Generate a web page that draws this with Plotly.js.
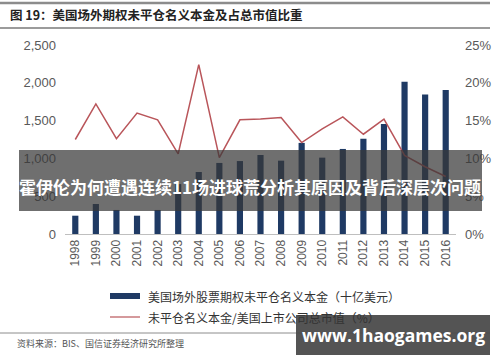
<!DOCTYPE html>
<html>
<head>
<meta charset="utf-8">
<script src="https://cdn.plot.ly/plotly-3.0.1.min.js"></script>
<style>html,body{margin:0;padding:0;background:#fff;}#chart{width:500px;height:362px;}</style>
</head>
<body>
<div id="chart"></div>
<script>
const years = ['1998','1999','2000','2001','2002','2003','2004','2005','2006','2007','2008','2009','2010','2011','2012','2013','2014','2015','2016'];
const notional = [242, 397, 318, 242, 318, 660, 820, 940, 965, 1045, 970, 1205, 1010, 1125, 1260, 1455, 2015, 1845, 1905];
const ratioPct = [12.5, 17.2, 12.6, 16.0, 15.1, 10.6, 22.4, 10.1, 15.1, 15.2, 15.4, 12.1, 13.9, 15.5, 13.2, 15.2, 10.4, 8.9, 7.6];
const seriesNames = ['美国场外股票期权未平仓名义本金（十亿美元）', '未平仓名义本金/美国上市公司总市值（%）'];
const titleText = '图 19：美国场外期权未平仓名义本金及占总市值比重';
const sourceText = '资料来源：BIS、国信证券经济研究所整理';
const bannerText = '霍伊伦为何遭遇连续11场进球荒分析其原因及背后深层次问题';
const watermarkText = 'www.1haogames.org';

const W = 500, H = 362;
const px = x => x / W;
const py = y => 1 - y / H;
const barColor = '#1f3a64';
const lineColor = '#b9555a';
const tickFont = {family: 'Liberation Sans, Arial, sans-serif', size: 13, color: '#595959'};
const cjk = 'Noto Sans CJK SC, sans-serif';

const traces = [
  {type: 'bar', x: years, y: notional, name: seriesNames[0], marker: {color: barColor}, xaxis: 'x', yaxis: 'y', showlegend: false},
  {type: 'scatter', mode: 'lines', x: years, y: ratioPct, name: seriesNames[1], line: {color: lineColor, width: 1.5}, xaxis: 'x', yaxis: 'y2', showlegend: false}
];

const layout = {
  width: W, height: H,
  margin: {l: 0, r: 0, t: 0, b: 0},
  paper_bgcolor: '#ffffff', plot_bgcolor: '#ffffff',
  bargap: 0.7,
  xaxis: {domain: [px(65), px(456)], type: 'category', tickangle: -90, tickfont: {family: tickFont.family, size: 12, color: '#595959'},
          showline: true, linecolor: '#bfbfbf', linewidth: 1, ticks: '', showgrid: false, zeroline: false, fixedrange: true},
  yaxis: {domain: [py(234), py(45)], range: [0, 2500], dtick: 500, tickformat: ',d', tickfont: tickFont, showgrid: false, zeroline: false, showline: false, ticks: '', ticklabelstandoff: 8},
  yaxis2: {overlaying: 'y', side: 'right', range: [0, 25], dtick: 5, ticksuffix: '%', tickfont: tickFont, showgrid: false, zeroline: false, showline: false, ticks: '', ticklabelstandoff: 8},
  showlegend: false,
  shapes: [
    {type: 'line', xref: 'paper', yref: 'paper', x0: 0, x1: px(490), y0: py(3), y1: py(3), line: {color: '#8c8c8c', width: 2.5}},
    {type: 'line', xref: 'paper', yref: 'paper', x0: 0, x1: px(490), y0: py(28), y1: py(28), line: {color: '#7a7a7a', width: 1.5}},
    {type: 'line', xref: 'paper', yref: 'paper', x0: 0, x1: px(490), y0: py(333), y1: py(333), line: {color: '#8c8c8c', width: 1}},
    {type: 'rect', xref: 'paper', yref: 'paper', x0: px(110), x1: px(140), y0: py(299), y1: py(293), fillcolor: barColor, line: {width: 0}},
    {type: 'line', xref: 'paper', yref: 'paper', x0: px(110), x1: px(140), y0: py(317), y1: py(317), line: {color: lineColor, width: 1.2}},
    {type: 'rect', xref: 'paper', yref: 'paper', layer: 'above', x0: px(19), x1: px(482), y0: py(211), y1: py(150), fillcolor: 'rgba(55,55,55,0.72)', line: {width: 0}},
    {type: 'rect', xref: 'paper', yref: 'paper', layer: 'above', x0: px(296), x1: px(490), y0: py(355), y1: py(315), fillcolor: 'rgba(75,75,75,0.95)', line: {width: 0}}
  ],
  annotations: [
    {xref: 'paper', yref: 'paper', x: px(8), y: py(15), xanchor: 'left', yanchor: 'middle', showarrow: false, text: '<b>' + titleText + '</b>', font: {family: cjk, size: 12.5, color: '#222'}},
    {xref: 'paper', yref: 'paper', x: px(146), y: py(296), xanchor: 'left', yanchor: 'middle', showarrow: false, text: seriesNames[0], font: {family: cjk, size: 12, color: '#333'}},
    {xref: 'paper', yref: 'paper', x: px(146), y: py(317), xanchor: 'left', yanchor: 'middle', showarrow: false, text: seriesNames[1], font: {family: cjk, size: 12, color: '#333'}},
    {xref: 'paper', yref: 'paper', x: px(15), y: py(343), xanchor: 'left', yanchor: 'middle', showarrow: false, text: sourceText, font: {family: cjk, size: 9, color: '#555'}},
    {xref: 'paper', yref: 'paper', x: px(250), y: py(186), xanchor: 'center', yanchor: 'middle', showarrow: false, text: '<b>' + bannerText + '</b>', font: {family: cjk, size: 17, color: '#ffffff'}},
    {xref: 'paper', yref: 'paper', x: px(393), y: py(335), xanchor: 'center', yanchor: 'middle', showarrow: false, text: '<b>' + watermarkText + '</b>', font: {family: 'Open Sans, DejaVu Sans, sans-serif', size: 17.5, color: '#ffffff'}}
  ]
};

Plotly.newPlot('chart', traces, layout, {staticPlot: true, displayModeBar: false});
</script>
</body>
</html>
